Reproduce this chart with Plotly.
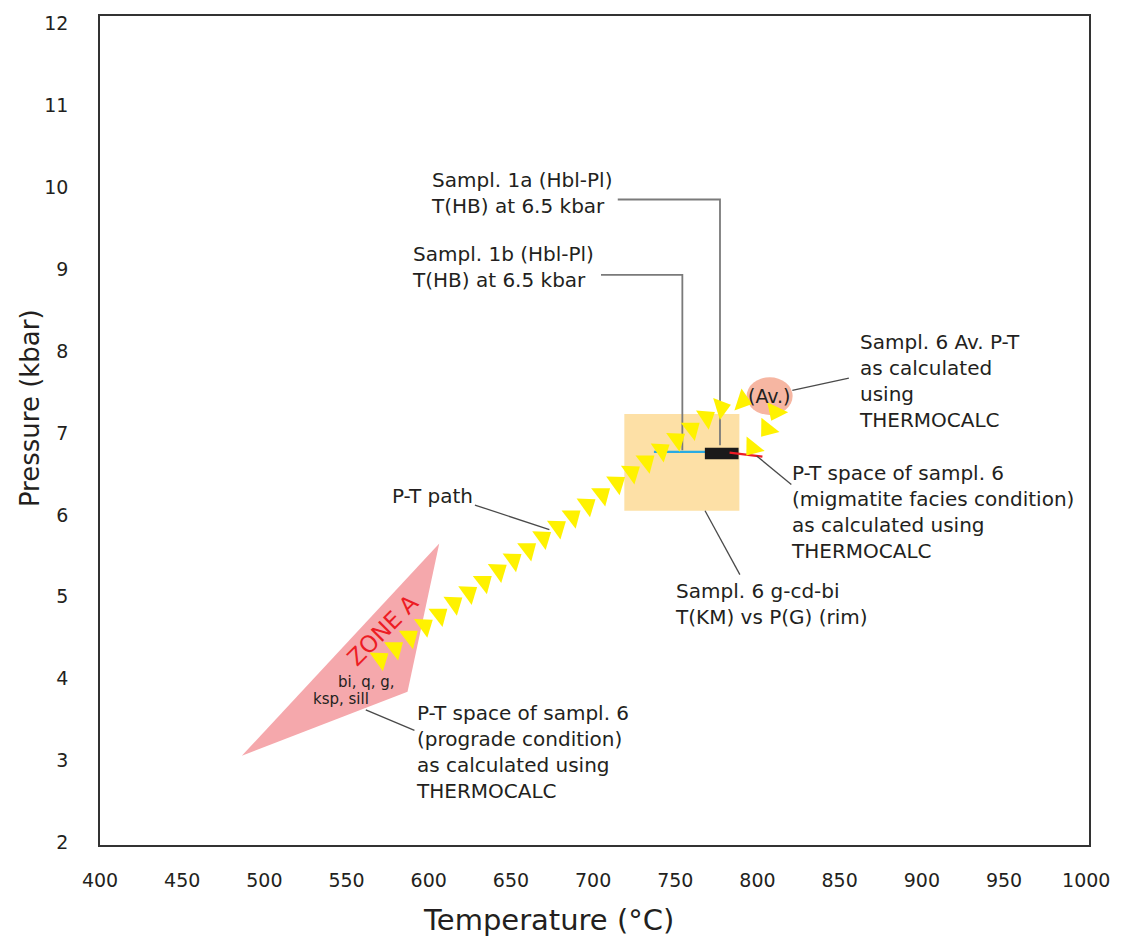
import numpy as np
import plotly.graph_objects as go

# ---- data (temperature in °C, pressure in kbar) ----
# P-T path: positions of the direction arrows along the path
path_T = [570.5, 579.5, 588.5, 597.5, 606.5, 615.5, 624.5, 633.5, 642.5, 651.5,
          660.5, 669.5, 678.5, 687.5, 696.5, 705.5, 714.5, 723.5, 732.5, 741.5,
          751.0, 760.0, 769.0, 778.0, 791.0, 811.0, 806.0, 797.0]
path_P = [4.24, 4.37, 4.51, 4.65, 4.78, 4.92, 5.05, 5.18, 5.32, 5.45,
          5.58, 5.72, 5.85, 5.98, 6.12, 6.25, 6.39, 6.52, 6.65, 6.79,
          6.92, 7.05, 7.19, 7.31, 7.39, 7.26, 7.05, 6.82]

# Zone A (prograde P-T space of sample 6)
zone_T = [486.3, 606.4, 587.1]
zone_P = [3.06, 5.65, 3.84]

# Sample 6 g-cd-bi: T(KM) vs P(G) (rim)
gcd_T = [719.0, 789.0]
gcd_P = [6.05, 7.23]

# Sample 6 migmatite facies condition (THERMOCALC)
mig_T = [768.0, 788.5]
mig_P = [6.68, 6.82]

# Sample 1a / 1b (Hbl-Pl) temperatures at 6.5 kbar
hb1a_T = 777.2
hb1b_T = 754.3

# Blue and red range bars
blue_T = [737.0, 780.0]
blue_P = [6.77, 6.77]
red_T = [783.0, 803.0]
red_P = [6.76, 6.71]

# Sample 6 average P-T (ellipse centre and half-widths)
av_T, av_P = 807.4, 7.45
av_dT, av_dP = 14.0, 0.23

x_ticks = [400, 450, 500, 550, 600, 650, 700, 750, 800, 850, 900, 950, 1000]
y_ticks = [2, 3, 4, 5, 6, 7, 8, 9, 10, 11, 12]

# ---- layout constants ----
W, H = 1122, 939
M = dict(l=100, r=25, t=15, b=94)
X_RANGE = [400, 1001.7]
Y_RANGE = [1.97, 12.09]

FONT = "DejaVu Sans"
TXT = "#231F20"
LEAD = "#4a4a4a"

# orientation of each arrow (clockwise from up, in screen space):
# each arrow points toward the next path position, the last one keeps
# the direction of its predecessor
sx = (W - M["l"] - M["r"]) / (X_RANGE[1] - X_RANGE[0])
sy = (H - M["t"] - M["b"]) / (Y_RANGE[1] - Y_RANGE[0])
pt = np.array(path_T) * sx
pp = np.array(path_P) * sy
dx = np.diff(pt)
dy = np.diff(pp)
dx = np.append(dx, dx[-1])
dy = np.append(dy, dy[-1])
arrow_angle = np.degrees(np.arctan2(dx, dy))

fig = go.Figure()

# Zone A polygon
fig.add_trace(go.Scatter(
    x=zone_T + [zone_T[0]], y=zone_P + [zone_P[0]], mode="lines",
    fill="toself", fillcolor="#F5A8AC", line=dict(width=0),
    hoverinfo="skip", showlegend=False))

# g-cd-bi box
fig.add_trace(go.Scatter(
    x=[gcd_T[0], gcd_T[1], gcd_T[1], gcd_T[0], gcd_T[0]],
    y=[gcd_P[0], gcd_P[0], gcd_P[1], gcd_P[1], gcd_P[0]], mode="lines",
    fill="toself", fillcolor="#FDE0A6", line=dict(width=0),
    hoverinfo="skip", showlegend=False))

# leader lines from sample 1a / 1b labels
fig.add_trace(go.Scatter(
    x=[715.0, hb1a_T, hb1a_T], y=[9.85, 9.85, 6.85], mode="lines",
    line=dict(color="#7a7a7a", width=1.8), hoverinfo="skip", showlegend=False))
fig.add_trace(go.Scatter(
    x=[704.8, hb1b_T, hb1b_T], y=[8.93, 8.93, 6.79], mode="lines",
    line=dict(color="#7a7a7a", width=1.8), hoverinfo="skip", showlegend=False))

# blue bar
fig.add_trace(go.Scatter(
    x=blue_T, y=blue_P, mode="lines", line=dict(color="#29ABE2", width=2.2),
    hoverinfo="skip", showlegend=False))

# migmatite box (black)
fig.add_trace(go.Scatter(
    x=[mig_T[0], mig_T[1], mig_T[1], mig_T[0], mig_T[0]],
    y=[mig_P[0], mig_P[0], mig_P[1], mig_P[1], mig_P[0]], mode="lines",
    fill="toself", fillcolor="#1a1a1a", line=dict(width=0),
    hoverinfo="skip", showlegend=False))

# red bar
fig.add_trace(go.Scatter(
    x=red_T, y=red_P, mode="lines", line=dict(color="#ED1C24", width=2.2),
    hoverinfo="skip", showlegend=False))

# average P-T ellipse
fig.add_shape(type="circle", xref="x", yref="y",
              x0=av_T - av_dT, x1=av_T + av_dT, y0=av_P - av_dP, y1=av_P + av_dP,
              fillcolor="#F6B6A2", line=dict(width=0), layer="below")

# leader lines for labels
leaders = [
    ([628.1, 673.4], [6.12, 5.82]),   # P-T path
    ([821.2, 855.6], [7.52, 7.67]),   # Av. P-T
    ([799.5, 820.6], [6.72, 6.37]),   # migmatite
    ([768.1, 789.3], [6.05, 5.27]),   # g-cd-bi
    ([561.7, 591.3], [3.62, 3.37]),   # prograde
]
for lx, ly in leaders:
    fig.add_trace(go.Scatter(x=lx, y=ly, mode="lines",
                             line=dict(color=LEAD, width=1.3),
                             hoverinfo="skip", showlegend=False))

# P-T path arrows
fig.add_trace(go.Scatter(
    x=path_T, y=path_P, mode="markers",
    marker=dict(symbol="triangle-up", size=20, color="#FFF200",
                angle=arrow_angle, line=dict(width=0)),
    hoverinfo="skip", showlegend=False))

ann = [
    (600.4, 9.93, "Sampl. 1a (Hbl-Pl)<br>T(HB) at 6.5 kbar"),
    (588.3, 9.02, "Sampl. 1b (Hbl-Pl)<br>T(HB) at 6.5 kbar"),
    (860.5, 7.64, "Sampl. 6 Av. P-T<br>as calculated<br>using<br>THERMOCALC"),
    (819.4, 6.04, "P-T space of sampl. 6<br>(migmatite facies condition)<br>as calculated using<br>THERMOCALC"),
    (748.8, 4.91, "Sampl. 6 g-cd-bi<br>T(KM) vs P(G) (rim)"),
    (576.2, 6.23, "P-T path"),
    (591.3, 3.10, "P-T space of sampl. 6<br>(prograde condition)<br>as calculated using<br>THERMOCALC"),
]
for ax_, ay_, t in ann:
    fig.add_annotation(x=ax_, y=ay_, text=t, showarrow=False, xanchor="left",
                       yanchor="middle", align="left",
                       font=dict(family=FONT, size=20, color=TXT))

fig.add_annotation(x=av_T, y=av_P, text="(Av.)", showarrow=False,
                   font=dict(family=FONT, size=19, color=TXT))
fig.add_annotation(x=572.0, y=4.60, text="ZONE A", showarrow=False, textangle=-45,
                   font=dict(family=FONT, size=23, color="#ED1C24"))
fig.add_annotation(x=543.5, y=3.96, text="bi, q, g,", showarrow=False,
                   xanchor="left", font=dict(family=FONT, size=15, color=TXT))
fig.add_annotation(x=528.4, y=3.75, text="ksp, sill", showarrow=False,
                   xanchor="left", font=dict(family=FONT, size=15, color=TXT))

# axis titles
fig.add_annotation(xref="paper", yref="paper", x=0.453, y=-0.09,
                   text="Temperature (°C)", showarrow=False,
                   xanchor="center", yanchor="middle",
                   font=dict(family=FONT, size=29, color=TXT))
fig.add_annotation(xref="paper", yref="paper", x=-0.0712, y=0.5265,
                   text="Pressure (kbar)", showarrow=False, textangle=-90,
                   xanchor="center", yanchor="middle",
                   font=dict(family=FONT, size=26, color=TXT))

fig.update_layout(
    width=W, height=H, margin=M,
    plot_bgcolor="white", paper_bgcolor="white",
    font=dict(family=FONT, color=TXT),
)
fig.update_xaxes(
    range=X_RANGE, tickvals=x_ticks, showgrid=False, zeroline=False,
    showline=True, mirror=True, linecolor="#333", linewidth=1.5, ticks="",
    tickfont=dict(size=19, color=TXT), ticklabelstandoff=17,
)
fig.update_yaxes(
    range=Y_RANGE, tickvals=y_ticks, showgrid=False, zeroline=False,
    showline=True, mirror=True, linecolor="#333", linewidth=1.5, ticks="",
    tickfont=dict(size=19, color=TXT), ticklabelstandoff=26,
)

fig.write_html("out.html")
